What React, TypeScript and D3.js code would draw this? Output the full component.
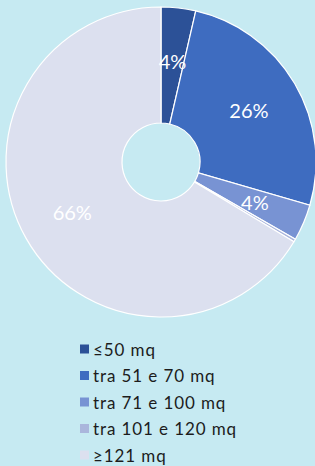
import * as d3 from "d3"
import { useRef, useEffect } from "react"

const categories = ["≤50 mq", "tra 51 e 70 mq", "tra 71 e 100 mq", "tra 101 e 120 mq", "≥121 mq"]
const shares = [3.6, 25.9, 3.8, 0.3, 66.4]
const colors = ["#2c5197", "#3e6cc0", "#7893d3", "#aab6dc", "#dce0ef"]

const App = () => {
  const svgRef = useRef<SVGSVGElement>(null)
  const width = 315
  const height = 466
  const cx = 161
  const cy = 162
  const outerR = 155
  const innerR = 39

  useEffect(() => {
    const svg = d3.select(svgRef.current)
    svg.selectAll("*").remove()

    svg.append("rect").attr("width", width).attr("height", height).attr("fill", "#c6eaf2")

    const data = categories.map((c, i) => ({ key: c, value: shares[i], color: colors[i] }))
    const pie = d3.pie<any>().value((d) => d.value).sort(null)
    const arcs = pie(data)
    const arc = d3.arc<any>().innerRadius(innerR).outerRadius(outerR)
    const labelArc = d3.arc<any>().innerRadius(102).outerRadius(102)

    const g = svg.append("g").attr("transform", `translate(${cx}, ${cy})`)

    // slices
    g.selectAll("path")
      .data(arcs)
      .join("path")
      .attr("d", arc)
      .attr("fill", (d) => d.data.color)
      .attr("stroke", "#ffffff")
      .attr("stroke-width", 1.2)

    // percent labels
    g.selectAll("text")
      .data(arcs.filter((d) => d.data.value >= 1))
      .join("text")
      .attr("transform", (d) => `translate(${labelArc.centroid(d)})`)
      .attr("text-anchor", "middle")
      .attr("dominant-baseline", "central")
      .attr("font-family", "Lato, sans-serif")
      .attr("font-size", "20px")
      .attr("fill", "#ffffff")
      .text((d) => `${Math.round(d.data.value)}%`)

    // legend
    const legend = svg
      .append("g")
      .attr("transform", "translate(80, 349)")
      .selectAll("g")
      .data(data)
      .join("g")
      .attr("transform", (d, i) => `translate(0, ${i * 26.5})`)
    legend
      .append("rect")
      .attr("x", 0)
      .attr("y", -4.5)
      .attr("width", 9)
      .attr("height", 9)
      .attr("fill", (d) => d.color)
    legend
      .append("text")
      .attr("x", 13)
      .attr("dominant-baseline", "central")
      .attr("font-family", "Lato, sans-serif")
      .attr("font-size", "17px")
      .attr("letter-spacing", "0.9px")
      .attr("fill", "#1c1c1c")
      .text((d) => d.key)
  }, [])

  return (
    <svg
      ref={svgRef}
      width={width}
      height={height}
      style={{ position: "absolute", left: 0, top: 0 }}
    ></svg>
  )
}

export default App
